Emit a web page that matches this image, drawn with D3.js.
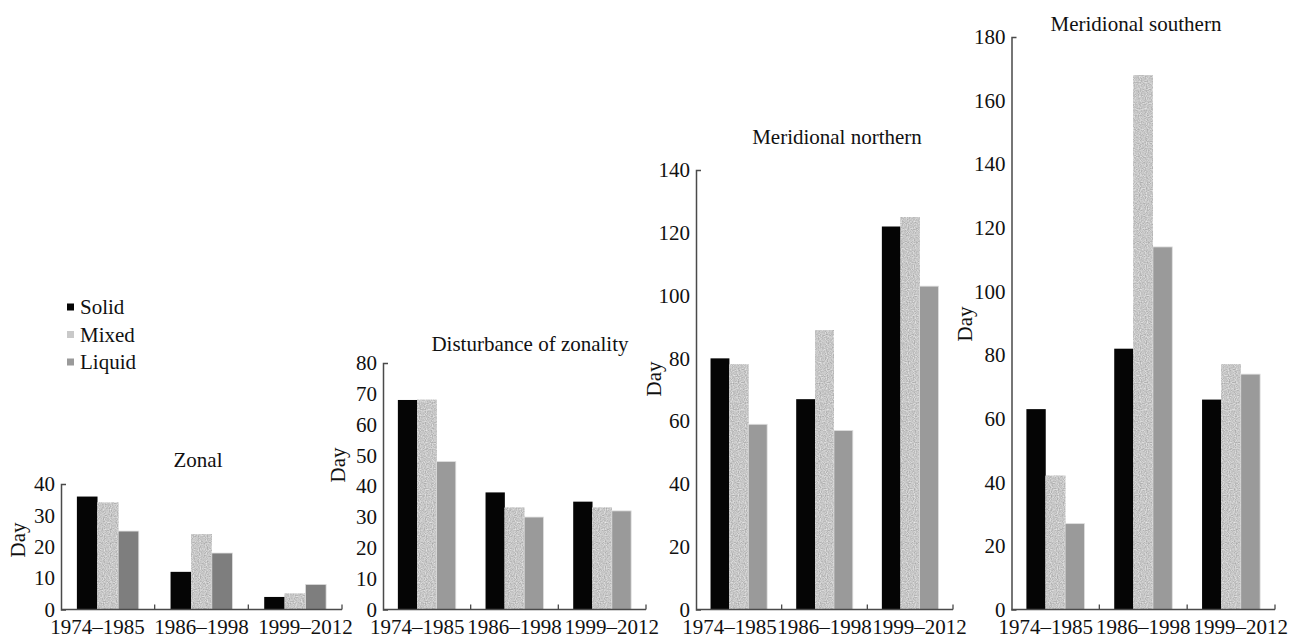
<!DOCTYPE html>
<html>
<head>
<meta charset="utf-8">
<script src="https://cdn.jsdelivr.net/npm/d3@7"></script>
<style>
  body { margin: 0; background: #fff; }
</style>
</head>
<body>
<svg id="chart" width="1299" height="639"></svg>
<script>
const periods = ["1974–1985", "1986–1998", "1999–2012"];
const series = ["Solid", "Mixed", "Liquid"];
const titles = ["Zonal", "Disturbance of zonality", "Meridional northern", "Meridional southern"];

// days per period, in series order [Solid, Mixed, Liquid]
const zonal = [[36, 34, 25], [12, 24, 18], [4, 5, 8]];
const disturbance = [[68, 68, 48], [38, 33, 30], [35, 33, 32]];
const northern = [[80, 78, 59], [67, 89, 57], [122, 125, 103]];
const southern = [[63, 42, 27], [82, 168, 114], [66, 77, 74]];

const ticksZonal = [0, 10, 20, 30, 40];
const ticksDisturbance = [0, 10, 20, 30, 40, 50, 60, 70, 80];
const ticksNorthern = [0, 20, 40, 60, 80, 100, 120, 140];
const ticksSouthern = [0, 20, 40, 60, 80, 100, 120, 140, 160, 180];

const FONT = 21;
const FAMILY = "Liberation Serif, Times New Roman, Times, DejaVu Serif, serif";
const BASE_Y = 609.5;
const LABEL_SPREAD = 1.11;
const AXIS_COLOR = "#4a4a4a";
const TEXT_COLOR = "#111";
const colors = { Solid: "#050505", Mixed: "#c9c9c9", Liquid: "#9a9a9a" };

// panel placement on the page
const panels = [
  { title: titles[0], values: zonal, ticks: ticksZonal, x0: 61, x1: 342, top: 484,
    titleX: 198, titleY: 467, dayX: 25, dayY: 540, liquid: "#7e7e7e" },
  { title: titles[1], values: disturbance, ticks: ticksDisturbance, x0: 383, x1: 646, top: 363,
    titleX: 530, titleY: 351, dayX: 345, dayY: 465 },
  { title: titles[2], values: northern, ticks: ticksNorthern, x0: 696, x1: 953, top: 170,
    titleX: 837, titleY: 144, dayX: 661, dayY: 379 },
  { title: titles[3], values: southern, ticks: ticksSouthern, x0: 1011.5, x1: 1275, top: 37,
    titleX: 1136, titleY: 31, dayX: 972, dayY: 324 },
];

const svg = d3.select("#chart")
  .attr("font-family", FAMILY)
  .attr("font-size", FONT);

// speckled fill used by the "Mixed" bars
const filter = svg.append("defs").append("filter")
  .attr("id", "speckle")
  .attr("color-interpolation-filters", "sRGB")
  .attr("x", 0).attr("y", 0).attr("width", 1).attr("height", 1);
filter.append("feTurbulence")
  .attr("type", "fractalNoise")
  .attr("baseFrequency", 0.85)
  .attr("numOctaves", 1)
  .attr("seed", 4)
  .attr("result", "noise");
filter.append("feColorMatrix")
  .attr("in", "noise")
  .attr("type", "matrix")
  .attr("values", "0.4 0 0 0 0.58  0.4 0 0 0 0.58  0.4 0 0 0 0.58  0 0 0 0 1")
  .attr("result", "grain");
filter.append("feComposite")
  .attr("in", "grain")
  .attr("in2", "SourceGraphic")
  .attr("operator", "in");

function label(sel) {
  return sel.attr("font-family", FAMILY).attr("font-size", FONT).attr("fill", TEXT_COLOR);
}

panels.forEach((p) => {
  const g = svg.append("g");

  const x = d3.scaleBand().domain(periods).range([p.x0, p.x1]);
  const xs = d3.scaleBand().domain(series).range([0, x.bandwidth()]).paddingOuter(0.77);
  const y = d3.scaleLinear().domain([0, d3.max(p.ticks)]).range([BASE_Y, p.top]);

  // bars
  g.selectAll("g.period")
    .data(p.values)
    .join("g")
    .attr("class", "period")
    .attr("transform", (d, i) => `translate(${x(periods[i])},0)`)
    .selectAll("rect")
    .data((d) => d.map((v, j) => ({ s: series[j], v })))
    .join("rect")
    .attr("x", (d) => xs(d.s))
    .attr("width", xs.bandwidth())
    .attr("y", (d) => y(d.v))
    .attr("height", (d) => BASE_Y - y(d.v))
    .attr("fill", (d) => (d.s === "Liquid" && p.liquid ? p.liquid : colors[d.s]))
    .attr("filter", (d) => (d.s === "Mixed" ? "url(#speckle)" : null))
    .attr("stroke", (d) => (d.s === "Solid" ? "none" : "#dedede"))
    .attr("stroke-width", 0.8);

  // y axis: no inner ticks, a short stub at the top
  g.append("g")
    .attr("transform", `translate(${p.x0},0)`)
    .call(d3.axisLeft(y).tickValues(p.ticks).tickSize(0).tickSizeOuter(-5).tickPadding(6))
    .call((a) => a.select(".domain").attr("stroke", AXIS_COLOR).attr("stroke-width", 1.5))
    .call((a) => label(a.selectAll("text")))
    .attr("font-family", FAMILY)
    .attr("font-size", FONT);

  // x axis line with upward ticks at category boundaries
  g.append("line")
    .attr("x1", p.x0).attr("x2", p.x1)
    .attr("y1", BASE_Y).attr("y2", BASE_Y)
    .attr("stroke", AXIS_COLOR).attr("stroke-width", 1.5);

  g.selectAll("line.bound")
    .data(periods)
    .join("line")
    .attr("class", "bound")
    .attr("x1", (d) => x(d) + x.bandwidth())
    .attr("x2", (d) => x(d) + x.bandwidth())
    .attr("y1", BASE_Y).attr("y2", BASE_Y - 5)
    .attr("stroke", AXIS_COLOR).attr("stroke-width", 1.3);

  const mid = (p.x0 + p.x1) / 2;
  g.selectAll("text.period")
    .data(periods)
    .join("text")
    .attr("class", "period")
    .attr("x", (d) => mid + (x(d) + x.bandwidth() / 2 - mid) * LABEL_SPREAD)
    .attr("y", 634)
    .attr("text-anchor", "middle")
    .call(label)
    .text((d) => d);

  g.append("text")
    .attr("x", p.titleX).attr("y", p.titleY)
    .attr("text-anchor", "middle")
    .call(label)
    .text(p.title);

  g.append("text")
    .attr("transform", `translate(${p.dayX},${p.dayY}) rotate(-90)`)
    .attr("text-anchor", "middle")
    .call(label)
    .text("Day");
});

// legend
const legend = svg.append("g").attr("transform", "translate(67,307)");
const item = legend.selectAll("g")
  .data(series)
  .join("g")
  .attr("transform", (d, i) => `translate(0,${i * 27.5})`);
item.append("rect")
  .attr("x", 0).attr("y", -3.5)
  .attr("width", 7).attr("height", 7)
  .attr("fill", (d) => colors[d]);
item.append("text")
  .attr("x", 13).attr("y", 7)
  .call(label)
  .text((d) => d);
</script>
</body>
</html>
